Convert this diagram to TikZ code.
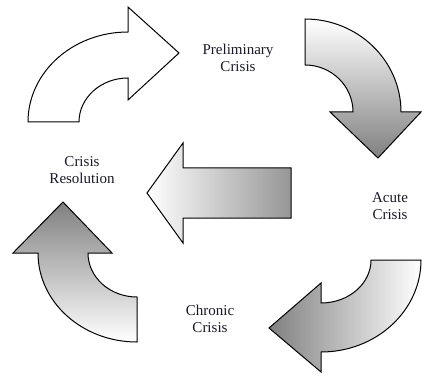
\documentclass[tikz,border=0pt]{standalone}
\usepackage{fontspec}
\setmainfont{Liberation Serif}
\usetikzlibrary{positioning}

\begin{document}
\begin{tikzpicture}[
    x=1pt, y=1pt,
    line join=miter,
    bigarrow/.style={draw=black, line width=1pt},
    stage/.style={align=center, text=textcol, font=\fontsize{15}{16.5}\selectfont}
]

% ========= Colors =========
\definecolor{textcol}{RGB}{25,25,40}
\definecolor{shadedark}{RGB}{128,128,128}
\definecolor{shademid}{RGB}{150,150,150}

\useasboundingbox (0,0) rectangle (422,375);

% ========= Curved arrow, top left (plain) =========
\draw[bigarrow, fill=white]
    (28,253) arc[start angle=180, end angle=90, x radius=100, y radius=90]
    -- (128,368) -- (179,322) -- (128,275) -- (128,297)
    arc[start angle=90, end angle=180, x radius=49, y radius=44] -- cycle;

% ========= Curved arrow, top right =========
\draw[bigarrow, top color=white, bottom color=shadedark]
    (305,356) arc[start angle=90, end angle=0, x radius=96, y radius=93]
    -- (421,263) -- (378,217) -- (330,263) -- (353,263)
    arc[start angle=0, end angle=90, x radius=48, y radius=47] -- cycle;

% ========= Straight arrow, middle =========
\draw[bigarrow, left color=white, right color=shademid]
    (291,207) -- (183,207) -- (183,232) -- (147,182)
    -- (183,132) -- (183,157) -- (291,157) -- cycle;

% ========= Curved arrow, bottom right =========
\draw[bigarrow, left color=shadedark, right color=white]
    (421,115) arc[start angle=0, end angle=-90, x radius=100, y radius=92]
    -- (321,3) -- (269,47) -- (321,92) -- (321,72)
    arc[start angle=-90, end angle=0, x radius=50, y radius=43] -- cycle;

% ========= Curved arrow, bottom left =========
\draw[bigarrow, top color=shadedark, bottom color=white]
    (137,33) arc[start angle=-90, end angle=-180, x radius=99, y radius=89]
    -- (13,122) -- (63,173) -- (112,122) -- (88,122)
    arc[start angle=180, end angle=270, x radius=49, y radius=44] -- cycle;

% ========= Stage labels =========
\node[stage] (prelim) at (238,317) {Preliminary\\Crisis};
\node[stage] (acute) at (390,169) {Acute\\Crisis};
\node[stage] (chronic) at (210,56) {Chronic\\Crisis};
\node[stage] (resol) at (82,205) {Crisis\\Resolution};

\end{tikzpicture}
\end{document}
